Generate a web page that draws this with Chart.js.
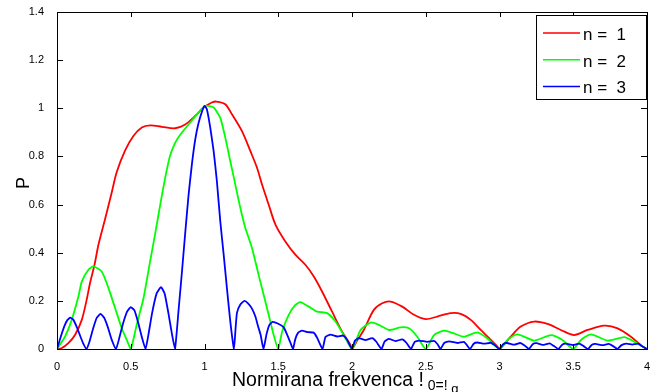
<!DOCTYPE html>
<html>
<head>
<meta charset="utf-8">
<script src="https://cdn.jsdelivr.net/npm/chart.js@4.4.0/dist/chart.umd.min.js"></script>
<style>
  html, body { margin: 0; padding: 0; background: #fff; }
</style>
</head>
<body>
<canvas id="grafico" width="657" height="392"></canvas>
<script>
// valores (frekvenca normirana -> P)
const xN1 = [0, 0.03, 0.077, 0.122, 0.168, 0.201, 0.224, 0.255, 0.281, 0.326, 0.371, 0.405, 0.462, 0.518, 0.575, 0.632, 0.711, 0.801, 0.869, 0.937,
  0.994, 1.05, 1.08, 1.141, 1.186, 1.254, 1.311, 1.356, 1.39, 1.435, 1.481, 1.548, 1.616, 1.684, 1.741, 1.797, 1.865, 1.933, 1.99, 2.0,
  2.04, 2.08, 2.148, 2.205, 2.261, 2.341, 2.42, 2.499, 2.579, 2.669, 2.737, 2.805, 2.873, 2.941, 2.986, 3.0,
  3.076, 3.144, 3.235, 3.326, 3.416, 3.506, 3.597, 3.71, 3.801, 3.891, 3.97, 4.0]
const pN1 = [0, 0.003, 0.024, 0.058, 0.121, 0.204, 0.274, 0.352, 0.433, 0.54, 0.65, 0.735, 0.825, 0.885, 0.92, 0.929, 0.923, 0.917, 0.933, 0.968,
  1.003, 1.024, 1.028, 1.017, 0.975, 0.905, 0.822, 0.753, 0.683, 0.6, 0.517, 0.447, 0.392, 0.35, 0.301, 0.239, 0.155, 0.072, 0.017, 0,
  0.04, 0.079, 0.1625, 0.19, 0.197, 0.176, 0.142, 0.124, 0.135, 0.149, 0.146, 0.121, 0.079, 0.0375, 0.01, 0,
  0.051, 0.093, 0.114, 0.104, 0.079, 0.058, 0.079, 0.097, 0.086, 0.051, 0.01, 0]

const xN2 = [0, 0.054, 0.1, 0.145, 0.168, 0.213, 0.247, 0.303, 0.349, 0.394, 0.439, 0.473, 0.5,
  0.54, 0.586, 0.63, 0.666, 0.7, 0.733, 0.765, 0.8, 0.835, 0.892, 0.949, 1.005, 1.062, 1.107, 1.141, 1.175, 1.209,
  1.243, 1.277, 1.322, 1.367, 1.401, 1.435, 1.469, 1.5, 1.526, 1.571, 1.616, 1.65, 1.707, 1.763, 1.831, 1.888, 1.944, 2.0,
  2.058, 2.126, 2.182, 2.25, 2.329, 2.386, 2.443, 2.5, 2.556, 2.624, 2.691, 2.759, 2.85, 2.918, 3.0,
  3.054, 3.122, 3.235, 3.348, 3.427, 3.5, 3.552, 3.62, 3.733, 3.846, 3.914, 4.0]
const pN2 = [0, 0.051, 0.121, 0.218, 0.28, 0.329, 0.343, 0.322, 0.253, 0.17, 0.086, 0.0375, 0,
  0.1, 0.21, 0.36, 0.48, 0.6, 0.71, 0.8, 0.855, 0.89, 0.933, 0.975, 1.01, 1.003, 0.96, 0.878, 0.78, 0.683,
  0.586, 0.503, 0.42, 0.308, 0.225, 0.142, 0.058, 0, 0.072, 0.142, 0.183, 0.195, 0.176, 0.155, 0.149, 0.114, 0.058, 0,
  0.079, 0.11, 0.1, 0.079, 0.09, 0.086, 0.051, 0, 0.058, 0.076, 0.065, 0.051, 0.069, 0.044, 0,
  0.0375, 0.061, 0.035, 0.058, 0.0375, 0, 0.0375, 0.061, 0.035, 0.049, 0.03, 0]

const xN3 = [0, 0.025, 0.05, 0.07, 0.09, 0.11, 0.135, 0.16, 0.18, 0.2,
  0.22, 0.245, 0.27, 0.295, 0.32, 0.345, 0.37, 0.4,
  0.42, 0.445, 0.475, 0.5, 0.525, 0.55, 0.575, 0.6,
  0.62, 0.645, 0.675, 0.705, 0.73, 0.755, 0.78, 0.8,
  0.824, 0.847, 0.869, 0.892, 0.915, 0.937, 0.96, 0.985, 1.0, 1.016, 1.039, 1.062, 1.084, 1.107, 1.13, 1.152, 1.175, 1.2,
  1.21, 1.22, 1.243, 1.272, 1.295, 1.32, 1.345, 1.365, 1.38, 1.4,
  1.42, 1.44, 1.462, 1.5, 1.537, 1.56, 1.58, 1.6,
  1.615, 1.635, 1.66, 1.7, 1.74, 1.765, 1.8,
  1.82, 1.855, 1.9, 1.94, 1.965, 2.0,
  2.02, 2.046, 2.092, 2.137, 2.165, 2.2,
  2.22, 2.25, 2.295, 2.341, 2.37, 2.4,
  2.425, 2.454, 2.511, 2.556, 2.58, 2.6,
  2.625, 2.658, 2.715, 2.76, 2.78, 2.8,
  2.825, 2.85, 2.896, 2.94, 2.97, 3.0,
  3.025, 3.05, 3.1, 3.14, 3.17, 3.2,
  3.225, 3.25, 3.3, 3.34, 3.37, 3.4,
  3.425, 3.45, 3.5, 3.54, 3.57, 3.6,
  3.625, 3.65, 3.7, 3.74, 3.77, 3.8,
  3.825, 3.86, 3.9, 3.94, 3.97, 4.0]
const pN3 = [0, 0.05, 0.095, 0.12, 0.13, 0.122, 0.09, 0.05, 0.02, 0,
  0.03, 0.085, 0.13, 0.146, 0.13, 0.09, 0.04, 0,
  0.04, 0.1, 0.155, 0.174, 0.16, 0.11, 0.05, 0,
  0.06, 0.15, 0.23, 0.257, 0.23, 0.15, 0.06, 0,
  0.16, 0.32, 0.48, 0.64, 0.77, 0.87, 0.94, 0.99, 1.01, 0.996, 0.92, 0.822, 0.697, 0.53, 0.392, 0.253, 0.114, 0,
  0.08, 0.15, 0.185, 0.2, 0.19, 0.17, 0.135, 0.09, 0.06, 0,
  0.06, 0.1, 0.113, 0.105, 0.09, 0.06, 0.03, 0,
  0.04, 0.068, 0.076, 0.07, 0.068, 0.045, 0,
  0.05, 0.06, 0.052, 0.056, 0.04, 0,
  0.035, 0.045, 0.037, 0.045, 0.03, 0,
  0.03, 0.042, 0.033, 0.04, 0.025, 0,
  0.03, 0.035, 0.03, 0.034, 0.02, 0,
  0.025, 0.032, 0.025, 0.03, 0.015, 0,
  0.022, 0.027, 0.022, 0.026, 0.015, 0,
  0.02, 0.025, 0.018, 0.025, 0.015, 0,
  0.02, 0.024, 0.017, 0.023, 0.012, 0,
  0.018, 0.022, 0.016, 0.022, 0.012, 0,
  0.017, 0.021, 0.016, 0.021, 0.012, 0,
  0.015, 0.022, 0.018, 0.022, 0.01, 0]

const nomesSeries = ['n =  1', 'n =  2', 'n =  3']
const coresSeries = ['#ff0000', '#00ff00', '#0000ff']
const ticksX = [0, 0.5, 1, 1.5, 2, 2.5, 3, 3.5, 4]
const ticksY = [0, 0.2, 0.4, 0.6, 0.8, 1, 1.2, 1.4]
const tituloX = 'Normirana frekvenca !'
const tituloXsub = ' 0=!'
const tituloXsub2 = ' g'
const tituloY = 'P'

const fonte = '"Liberation Sans", Arial, sans-serif'

function pares(xs, ys) {
  const out = []
  for (let i = 0; i < Math.min(xs.length, ys.length); i++) out.push({ x: xs[i], y: ys[i] })
  return out
}

// moldura, ticks para dentro, legenda e titulos (estilo matlab)
const moldura = {
  id: 'moldura',
  afterDraw(chart) {
    const ctx = chart.ctx
    const sx = chart.scales.x, sy = chart.scales.y
    const L = Math.round(sx.left), R = Math.round(sx.right)
    const T = Math.round(sy.top), B = Math.round(sy.bottom)
    ctx.save()
    ctx.strokeStyle = '#000'
    ctx.lineWidth = 1
    ctx.strokeRect(L + 0.5, T + 0.5, R - L, B - T)
    ctx.beginPath()
    ticksX.forEach(v => {
      const p = Math.round(sx.getPixelForValue(v)) + 0.5
      ctx.moveTo(p, B); ctx.lineTo(p, B - 5)
      ctx.moveTo(p, T); ctx.lineTo(p, T + 5)
    })
    ticksY.forEach(v => {
      const p = Math.round(sy.getPixelForValue(v)) + 0.5
      ctx.moveTo(L, p); ctx.lineTo(L + 6, p)
      ctx.moveTo(R, p); ctx.lineTo(R - 6, p)
    })
    ctx.stroke()

    // legenda
    const bx = 536, by = 15, bw = 110, bh = 84
    ctx.fillStyle = '#fff'
    ctx.fillRect(bx, by, bw, bh)
    ctx.strokeRect(bx + 0.5, by + 0.5, bw, bh)
    ctx.font = '17px ' + fonte
    ctx.textAlign = 'left'
    ctx.textBaseline = 'alphabetic'
    nomesSeries.forEach((nome, i) => {
      const yl = 33 + i * 26.7
      ctx.strokeStyle = coresSeries[i]
      ctx.lineWidth = 1.5
      ctx.beginPath()
      ctx.moveTo(543, yl); ctx.lineTo(580, yl)
      ctx.stroke()
      ctx.fillStyle = '#000'
      ctx.fillText(nome, 583, yl + 7)
    })

    // titulo eixo x
    ctx.fillStyle = '#000'
    ctx.font = '19.5px ' + fonte
    ctx.fillText(tituloX, 232, 386)
    let px = 232 + ctx.measureText(tituloX).width
    ctx.font = '14px ' + fonte
    ctx.fillText(tituloXsub, px, 390)
    px += ctx.measureText(tituloXsub).width
    ctx.font = '13px ' + fonte
    ctx.fillText(tituloXsub2, px, 393)

    // titulo eixo y
    ctx.translate(24, 183)
    ctx.rotate(-Math.PI / 2)
    ctx.font = '18px ' + fonte
    ctx.textAlign = 'center'
    ctx.textBaseline = 'middle'
    ctx.fillText(tituloY, 0, 0)
    ctx.restore()
  }
}

const rotulo = v => String(Math.round(v * 10) / 10)

const ctx = document.getElementById('grafico')
new Chart(ctx, {
  type: 'line',
  data: {
    datasets: [
      { label: nomesSeries[0], data: pares(xN1, pN1), borderColor: coresSeries[0], tension: 0.3, order: 2 },
      { label: nomesSeries[1], data: pares(xN2, pN2), borderColor: coresSeries[1], tension: 0.2, order: 1 },
      { label: nomesSeries[2], data: pares(xN3, pN3), borderColor: coresSeries[2], tension: 0.15, order: 0 }
    ]
  },
  options: {
    responsive: false,
    animation: false,
    devicePixelRatio: 1,
    datasets: { line: { borderWidth: 1.8, pointRadius: 0, fill: false } },
    layout: { padding: { top: 12, right: 10, left: 0, bottom: 0 } },
    plugins: { legend: { display: false }, tooltip: { enabled: false } },
    scales: {
      x: {
        type: 'linear', min: 0, max: 4,
        afterFit: s => { s.height = 43 },
        afterBuildTicks: s => { s.ticks = ticksX.map(v => ({ value: v })) },
        grid: { display: false },
        border: { display: false },
        ticks: { color: '#000', padding: 3, maxRotation: 0, callback: rotulo, font: { family: fonte, size: 11 } }
      },
      y: {
        type: 'linear', min: 0, max: 1.4,
        afterFit: s => { s.width = 57 },
        afterBuildTicks: s => { s.ticks = ticksY.map(v => ({ value: v })) },
        grid: { display: false },
        border: { display: false },
        ticks: { color: '#000', padding: 5, callback: rotulo, font: { family: fonte, size: 11 } }
      }
    }
  },
  plugins: [moldura]
})
</script>
</body>
</html>
